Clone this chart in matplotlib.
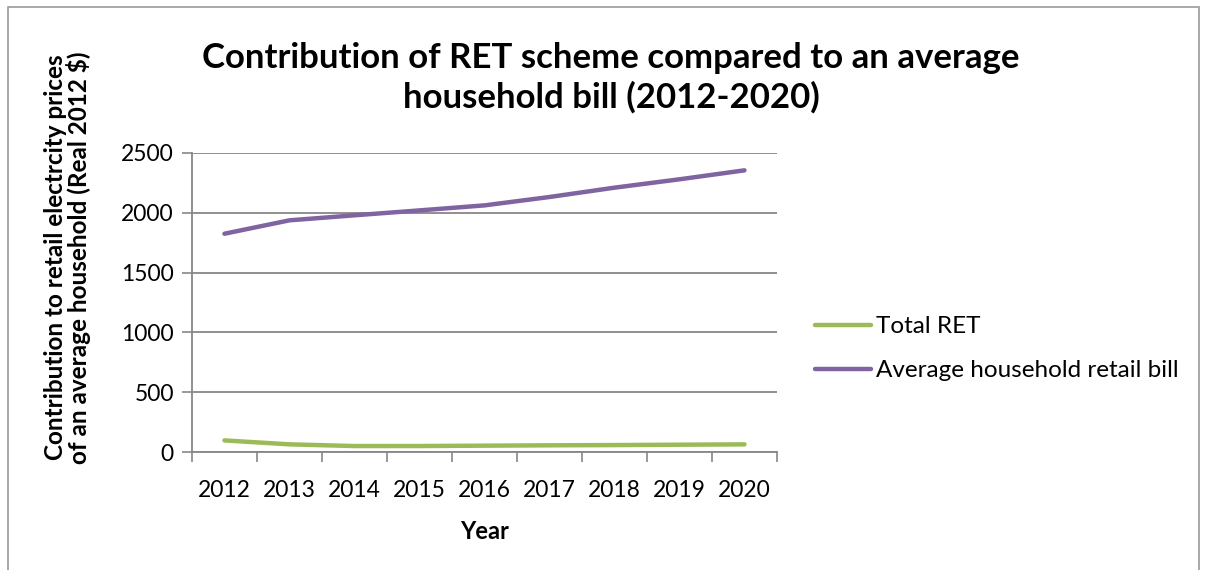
"""Contribution of RET scheme compared to an average household bill."""

import matplotlib.pyplot as plt
import matplotlib.patches as patches
import numpy as np

YEARS = ['2012', '2013', '2014', '2015', '2016', '2017', '2018', '2019', '2020']
TOTAL_RET = [97, 64, 50, 50, 53, 56, 58, 61, 64]
AVG_BILL = [1825, 1937, 1979, 2020, 2062, 2132, 2210, 2280, 2355]
Y_TICKS = [0, 500, 1000, 1500, 2000, 2500]

GREEN = '#9BBB59'
PURPLE = '#8064A2'
GRID = '#878787'


def _main():
    plt.rcParams['font.family'] = ['Lato', 'DejaVu Sans']

    fig = plt.figure(figsize=(12.05, 5.70), dpi=100)
    fig.patches.append(patches.Rectangle(
        (0.007, -0.05), 0.988, 1.038, transform=fig.transFigure,
        fill=False, edgecolor='#9a9a9a', linewidth=1.2))

    ax = fig.add_axes([0.1593, 0.2070, 0.4855, 0.5246])
    x = np.arange(len(YEARS))

    ax.plot(x, TOTAL_RET, color=GREEN, linewidth=3.2,
            solid_capstyle='round', label='Total RET')
    ax.plot(x, AVG_BILL, color=PURPLE, linewidth=3.2,
            solid_capstyle='round', label='Average household retail bill')

    ax.set_xlim(-0.5, len(YEARS) - 0.5)
    ax.set_ylim(0, 2500)
    ax.set_yticks(Y_TICKS)
    ax.set_xticks(x)
    ax.set_xticklabels(YEARS)
    ax.set_xticks(np.arange(len(YEARS) + 1) - 0.5, minor=True)
    ax.tick_params(axis='x', which='major', length=0, pad=20, labelsize=16.5)
    ax.tick_params(axis='x', which='minor', length=7, width=1.2,
                   color=GRID, direction='out')
    ax.tick_params(axis='y', length=7, width=1.2, color=GRID,
                   labelsize=16.5, pad=6)

    ax.yaxis.grid(True, color=GRID, linewidth=1.3)
    ax.set_axisbelow(True)
    for side in ['top', 'right']:
        ax.spines[side].set_visible(False)
    for side in ['left', 'bottom']:
        ax.spines[side].set_color(GRID)
        ax.spines[side].set_linewidth(1.3)

    ax.set_xlabel('Year', fontsize=17, fontweight='bold', labelpad=14)
    ax.set_ylabel('Contribution to retail electrcity prices\n'
                  'of an average household (Real 2012 $)',
                  fontsize=17.5, fontweight='bold', labelpad=30,
                  linespacing=0.95)
    ax.yaxis.set_label_coords(-0.172, 0.65)

    fig.text(0.507, 0.864,
             'Contribution of RET scheme compared to an average\n'
             'household bill (2012-2020)',
             ha='center', va='center', fontsize=25, fontweight='bold',
             linespacing=1.25)

    ax.legend(loc='center left', bbox_to_anchor=(1.065, 0.345), frameon=False,
              fontsize=17.5, handlelength=2.3, handletextpad=0.2,
              labelspacing=0.95, borderpad=0, borderaxespad=0)

    fig.savefig('out.png', dpi=100)


if __name__ == '__main__':
    _main()
